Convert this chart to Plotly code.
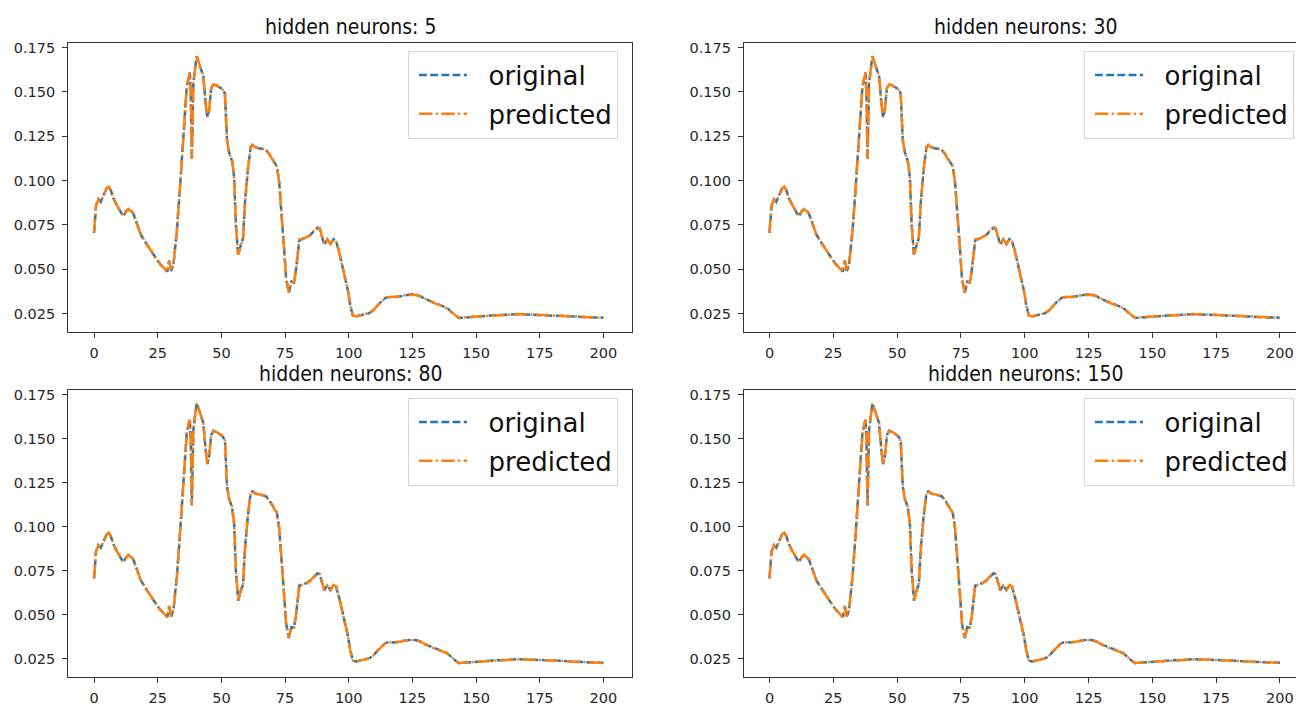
import plotly.graph_objects as go

# ---- data ----
X = [0, 0.8, 1.7, 2.6, 3.7, 5.0, 5.8, 6.6, 7.6, 8.6, 9.6, 10.6, 11.5, 12.5, 13.5, 14.5,
     15.4, 16.4, 17.4, 18.4, 19.4, 20.7, 22.0, 23.3, 24.6, 25.9, 27.2, 28.8, 29.5, 30.3,
     31.2, 31.8, 32.6, 33.8, 35.1, 35.8, 36.4, 37.0, 37.6, 38.0, 38.4, 39.0, 39.7, 40.3,
     41.0, 41.6, 42.9, 43.8, 44.5, 45.2, 46.0, 46.9, 48.2, 49.5, 50.6, 51.4, 52.2, 53.0,
     54.2, 55.0, 55.7, 56.6, 57.5, 58.5, 59.3, 60.4, 61.5, 62.2, 63.0, 64.5, 66.0, 67.5,
     68.8, 70.0, 71.8, 72.7, 73.8, 74.8, 75.4, 76.5, 77.5, 78.5, 79.4, 80.6, 82.0, 83.5,
     85.0, 86.3, 87.8, 88.6, 89.3, 90.4, 91.6, 92.8, 94.0, 95.0, 96.2, 97.5, 98.5, 99.6,
     100.6, 101.6, 103.0, 104.8, 106.4, 108.0, 109.7, 111.3, 113.0, 114.6, 116.3, 118.0,
     120.2, 122.5, 124.8, 126.5, 128.1, 130.0, 133.0, 136.0, 138.6, 141.0, 143.2, 145.8,
     149.0, 152.4, 156.9, 160.0, 163.0, 166.0, 170.0, 175.0, 182.0, 188.5, 195.0, 200.0]

ORIGINAL = [0.0705, 0.0860, 0.0895, 0.0880, 0.0915, 0.0960, 0.0965, 0.0945, 0.0900, 0.0870,
            0.0845, 0.0820, 0.0798, 0.0825, 0.0838, 0.0830, 0.0815, 0.0775, 0.0735, 0.0695,
            0.0670, 0.0640, 0.0612, 0.0585, 0.0556, 0.0530, 0.0509, 0.0487, 0.0550, 0.0490,
            0.0530, 0.0610, 0.0730, 0.0970, 0.1280, 0.1400, 0.1530, 0.1570, 0.1610, 0.1480,
            0.1120, 0.1550, 0.1650, 0.1702, 0.1670, 0.1645, 0.1590, 0.1440, 0.1355, 0.1400,
            0.1520, 0.1545, 0.1535, 0.1525, 0.1510, 0.1492, 0.1230, 0.1160, 0.1110, 0.1020,
            0.0750, 0.0580, 0.0630, 0.0675, 0.0880, 0.1060, 0.1190, 0.1200, 0.1192, 0.1182,
            0.1180, 0.1172, 0.1150, 0.1120, 0.1080, 0.0990, 0.0800, 0.0580, 0.0450, 0.0367,
            0.0430, 0.0425, 0.0510, 0.0665, 0.0672, 0.0680, 0.0695, 0.0716, 0.0735, 0.0730,
            0.0695, 0.0638, 0.0668, 0.0640, 0.0670, 0.0660, 0.0600, 0.0520, 0.0470, 0.0385,
            0.0300, 0.0238, 0.0235, 0.0242, 0.0248, 0.0252, 0.0270, 0.0295, 0.0322, 0.0340,
            0.0344, 0.0342, 0.0348, 0.0354, 0.0359, 0.0355, 0.0348, 0.0332, 0.0313, 0.0295,
            0.0282, 0.0250, 0.0225, 0.0228, 0.0233, 0.0235, 0.0240, 0.0240, 0.0244, 0.0247,
            0.0245, 0.0244, 0.0239, 0.0233, 0.0228, 0.0227]

PREDICTED = [0.0708, 0.0858, 0.0893, 0.0882, 0.0913, 0.0958, 0.0966, 0.0943, 0.0902, 0.0868,
             0.0846, 0.0818, 0.0800, 0.0823, 0.0840, 0.0828, 0.0816, 0.0773, 0.0737, 0.0693,
             0.0672, 0.0638, 0.0613, 0.0583, 0.0558, 0.0528, 0.0510, 0.0485, 0.0548, 0.0492,
             0.0528, 0.0612, 0.0728, 0.0972, 0.1278, 0.1402, 0.1528, 0.1572, 0.1608, 0.1482,
             0.1122, 0.1548, 0.1652, 0.1700, 0.1672, 0.1643, 0.1592, 0.1438, 0.1357, 0.1398,
             0.1522, 0.1543, 0.1537, 0.1523, 0.1512, 0.1490, 0.1232, 0.1158, 0.1112, 0.1018,
             0.0752, 0.0582, 0.0628, 0.0677, 0.0878, 0.1062, 0.1188, 0.1202, 0.1190, 0.1184,
             0.1178, 0.1174, 0.1148, 0.1122, 0.1078, 0.0992, 0.0798, 0.0582, 0.0448, 0.0369,
             0.0428, 0.0427, 0.0508, 0.0667, 0.0670, 0.0682, 0.0693, 0.0718, 0.0733, 0.0732,
             0.0693, 0.0640, 0.0666, 0.0642, 0.0668, 0.0662, 0.0598, 0.0522, 0.0468, 0.0387,
             0.0298, 0.0240, 0.0234, 0.0243, 0.0247, 0.0253, 0.0269, 0.0296, 0.0321, 0.0341,
             0.0343, 0.0343, 0.0347, 0.0355, 0.0358, 0.0356, 0.0347, 0.0333, 0.0312, 0.0296,
             0.0281, 0.0251, 0.0226, 0.0229, 0.0232, 0.0236, 0.0239, 0.0241, 0.0243, 0.0246,
             0.0246, 0.0243, 0.0240, 0.0232, 0.0229, 0.0226]

TITLES = ["hidden neurons: 5", "hidden neurons: 30", "hidden neurons: 80", "hidden neurons: 150"]
SERIES_NAMES = ["original", "predicted"]
X_TICKS = [0, 25, 50, 75, 100, 125, 150, 175, 200]
Y_TICKS = [0.025, 0.050, 0.075, 0.100, 0.125, 0.150, 0.175]
Y_TICK_LABELS = ["0.025", "0.050", "0.075", "0.100", "0.125", "0.150", "0.175"]

# ---- styling / layout ----
W, H = 1296, 706
BLUE = "#1f77b4"
ORANGE = "#ff7f0e"
AX = "#333333"
FONT = "DejaVu Sans"
PAD = "\u00a0\u00a0"  # gap between legend sample line and text

def px_x(p):
    return p / W

def px_y(p):
    return 1 - p / H

# panel geometry in pixels: (left, right, top, bottom, xrange, clipped on the right)
panels = [
    (68.3, 631.7, 40, 332, [-10.1, 211.1], False),
    (744.0, 1296.0, 40, 332, [-10.0, 206.3], True),
    (68.3, 631.7, 390, 680, [-10.1, 211.1], False),
    (744.0, 1296.0, 390, 680, [-10.0, 206.3], True),
]
legend_pos = [(618, 48), (1294, 48), (618, 398), (1294, 398)]

fig = go.Figure()
layout = dict(
    width=W, height=H, margin=dict(l=0, r=0, t=0, b=0),
    paper_bgcolor="white", plot_bgcolor="white",
    font=dict(family=FONT, color="#222222"),
    showlegend=True,
    annotations=[],
)

for k, (l, r, t, b, xr, clipped) in enumerate(panels):
    sfx = "" if k == 0 else str(k + 1)
    xa, ya, lg = "x" + sfx, "y" + sfx, "legend" + sfx
    fig.add_trace(go.Scatter(
        x=X, y=ORIGINAL, mode="lines", name=PAD + SERIES_NAMES[0],
        line=dict(color=BLUE, width=2.5, dash="7.8px,3.4px"),
        xaxis=xa, yaxis=ya, legend=lg, legendgroup=f"o{k}"))
    fig.add_trace(go.Scatter(
        x=X, y=PREDICTED, mode="lines", name=PAD + SERIES_NAMES[1],
        line=dict(color=ORANGE, width=2.5, dash="13.4px,3.4px,2.1px,3.4px"),
        xaxis=xa, yaxis=ya, legend=lg, legendgroup=f"p{k}"))

    layout["xaxis" + sfx] = dict(
        domain=[px_x(l), px_x(r)], anchor=ya, range=xr,
        tickmode="array", tickvals=X_TICKS, ticks="outside", ticklen=5,
        tickwidth=1.2, tickcolor=AX, showline=True, linecolor=AX, linewidth=1.3,
        mirror=True, showgrid=False, zeroline=False,
        tickfont=dict(family=FONT, size=14.5, color="#262626"), ticklabelstandoff=2,
        fixedrange=True)
    layout["yaxis" + sfx] = dict(
        domain=[px_y(b), px_y(t)], anchor=xa, range=[0.0145, 0.1778],
        tickmode="array", tickvals=Y_TICKS, ticktext=Y_TICK_LABELS,
        ticks="outside", ticklen=5, tickwidth=1.2, tickcolor=AX,
        showline=True, linecolor=AX, linewidth=1.3, mirror=not clipped,
        showgrid=False, zeroline=False,
        tickfont=dict(family=FONT, size=14.5, color="#262626"), ticklabelstandoff=4,
        fixedrange=True)

    lx, ly = legend_pos[k]
    layout[lg] = dict(
        x=px_x(lx), y=px_y(ly), xanchor="right", yanchor="top",
        xref="paper", yref="paper",
        bgcolor="rgba(255,255,255,0.85)", bordercolor="#d6d6d6", borderwidth=1,
        font=dict(family=FONT, size=26, color="#111111"),
        traceorder="grouped", tracegroupgap=2, itemwidth=48, indentation=5,
    )

    cx = (l + (l + 563.4 if clipped else r)) / 2
    layout["annotations"].append(dict(
        text=TITLES[k], x=px_x(cx), y=px_y(t - 2), xref="paper", yref="paper",
        xanchor="center", yanchor="bottom", showarrow=False,
        font=dict(family="DejaVu Sans Condensed, Liberation Sans Narrow, DejaVu Sans",
                  size=21, color="#111111")))

fig.update_layout(**layout)
fig.write_html("out.html", config={"displayModeBar": False})
